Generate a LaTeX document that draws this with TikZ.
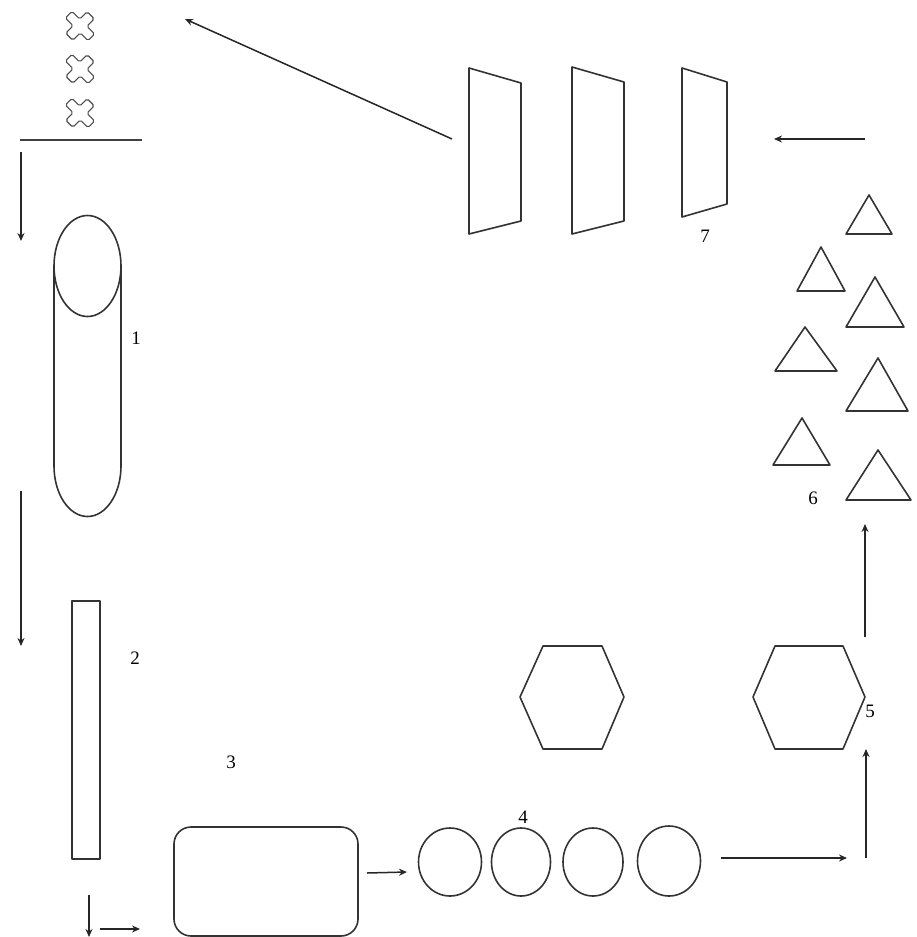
\documentclass[tikz,border=0pt]{standalone}
\usepackage{fontspec}
\setmainfont{Liberation Serif}
\usetikzlibrary{arrows.meta}
\tikzset{
  shp/.style={draw=black!80, line width=1.6pt, line join=round},
  arr/.style={draw=black!85, line width=1.5pt, -{Stealth[length=8pt,width=7pt]}},
  lbl/.style={font=\fontsize{19}{19}\selectfont, inner sep=0pt},
  crossmark/.style={draw=black!70, line width=1.1pt, rounded corners=1.8pt}
}
\begin{document}
\begin{tikzpicture}[x=1pt,y=-1pt]
\useasboundingbox (0,0) rectangle (917,937);
% crosses
\foreach \cy [count=\i] in {26,69,113}{
  \begin{scope}[shift={(80,\cy)}, rotate=45, xscale=0.95]
    \draw[crossmark] (-5,16) -- (5,16) -- (5,5) -- (16,5) -- (16,-5) -- (5,-5) -- (5,-16) -- (-5,-16) -- (-5,-5) -- (-16,-5) -- (-16,5) -- (-5,5) -- cycle;
  \end{scope}
}
% shelf line
\coordinate (lineL) at (20,140);
\coordinate (lineR) at (142,140);
\draw[draw=black!75, line width=1.6pt] (lineL) -- (lineR);
% arrow to cylinder
\coordinate (a1s) at (21,152);
\coordinate (a1e) at (21,241);
\draw[arr] (a1s) -- (a1e);
% cylinder 1
\draw[shp] (87.5,266) ellipse [x radius=33.5, y radius=50.5];
\draw[shp] (54,266) -- (54,466) arc[start angle=180, end angle=0, x radius=33.5, y radius=50.5] -- (121,266);
\node[lbl] (l1) at (136,338) {1};
% arrow down to 2
\coordinate (a2s) at (21,491);
\coordinate (a2e) at (21,646);
\draw[arr] (a2s) -- (a2e);
% rect 2
\draw[shp] (72,601) rectangle (100,859);
\node[lbl] (l2) at (135,658) {2};
% bottom arrows
\coordinate (a3s) at (89,895);
\coordinate (a3e) at (89,937);
\draw[arr] (a3s) -- (a3e);
\coordinate (a4s) at (100,929);
\coordinate (a4e) at (140,929);
\draw[arr] (a4s) -- (a4e);
% box 3
\draw[shp, rounded corners=17pt] (174,827) rectangle (358,936);
\node[lbl] (l3) at (231,762) {3};
\coordinate (a5s) at (367,873);
\coordinate (a5e) at (407,872);
\draw[arr] (a5s) -- (a5e);
% circles 4
\draw[shp] (450,862) ellipse [x radius=31.5, y radius=34];
\draw[shp] (521,862) ellipse [x radius=29.5, y radius=34];
\draw[shp] (593,862) ellipse [x radius=30, y radius=34];
\draw[shp] (669,861) ellipse [x radius=31.5, y radius=35];
\node[lbl] (l4) at (523,817) {4};
\coordinate (a6s) at (721,858);
\coordinate (a6e) at (847,858);
\draw[arr] (a6s) -- (a6e);
\coordinate (a7s) at (866,858);
\coordinate (a7e) at (866,749);
\draw[arr] (a7s) -- (a7e);
% hexagons
\draw[shp] (520,697) -- (543,646) -- (602,646) -- (624,697) -- (602,749) -- (543,749) -- cycle;
\draw[shp] (753,697) -- (775,646) -- (843,646) -- (865,697) -- (843,749) -- (775,749) -- cycle;
\node[lbl] (l5) at (870,711) {5};
\coordinate (a8s) at (865,637);
\coordinate (a8e) at (865,524);
\draw[arr] (a8s) -- (a8e);
% triangles 6
\draw[shp] (846,234) -- (869,195) -- (892,234) -- cycle;
\draw[shp] (797,291) -- (821,247) -- (845,291) -- cycle;
\draw[shp] (846,327) -- (875,277) -- (904,327) -- cycle;
\draw[shp] (775,371) -- (805,327) -- (837,371) -- cycle;
\draw[shp] (846,411) -- (878,358) -- (908,411) -- cycle;
\draw[shp] (773,465) -- (802,418) -- (830,465) -- cycle;
\draw[shp] (846,500) -- (878,450) -- (911,500) -- cycle;
\node[lbl] (l6) at (813,498) {6};
% arrow into 7
\coordinate (a9s) at (865,139);
\coordinate (a9e) at (774,139);
\draw[arr] (a9s) -- (a9e);
% trapezoids 7
\draw[shp] (469,68) -- (521,83) -- (521,221) -- (469,234) -- cycle;
\draw[shp] (572,67) -- (624,82) -- (624,221) -- (572,234) -- cycle;
\draw[shp] (682,68) -- (727,82) -- (727,204) -- (682,217) -- cycle;
\node[lbl] (l7) at (705,236) {7};
% arrow to crosses
\coordinate (a10s) at (452,139);
\coordinate (a10e) at (185,19);
\draw[arr] (a10s) -- (a10e);
\end{tikzpicture}
\end{document}
